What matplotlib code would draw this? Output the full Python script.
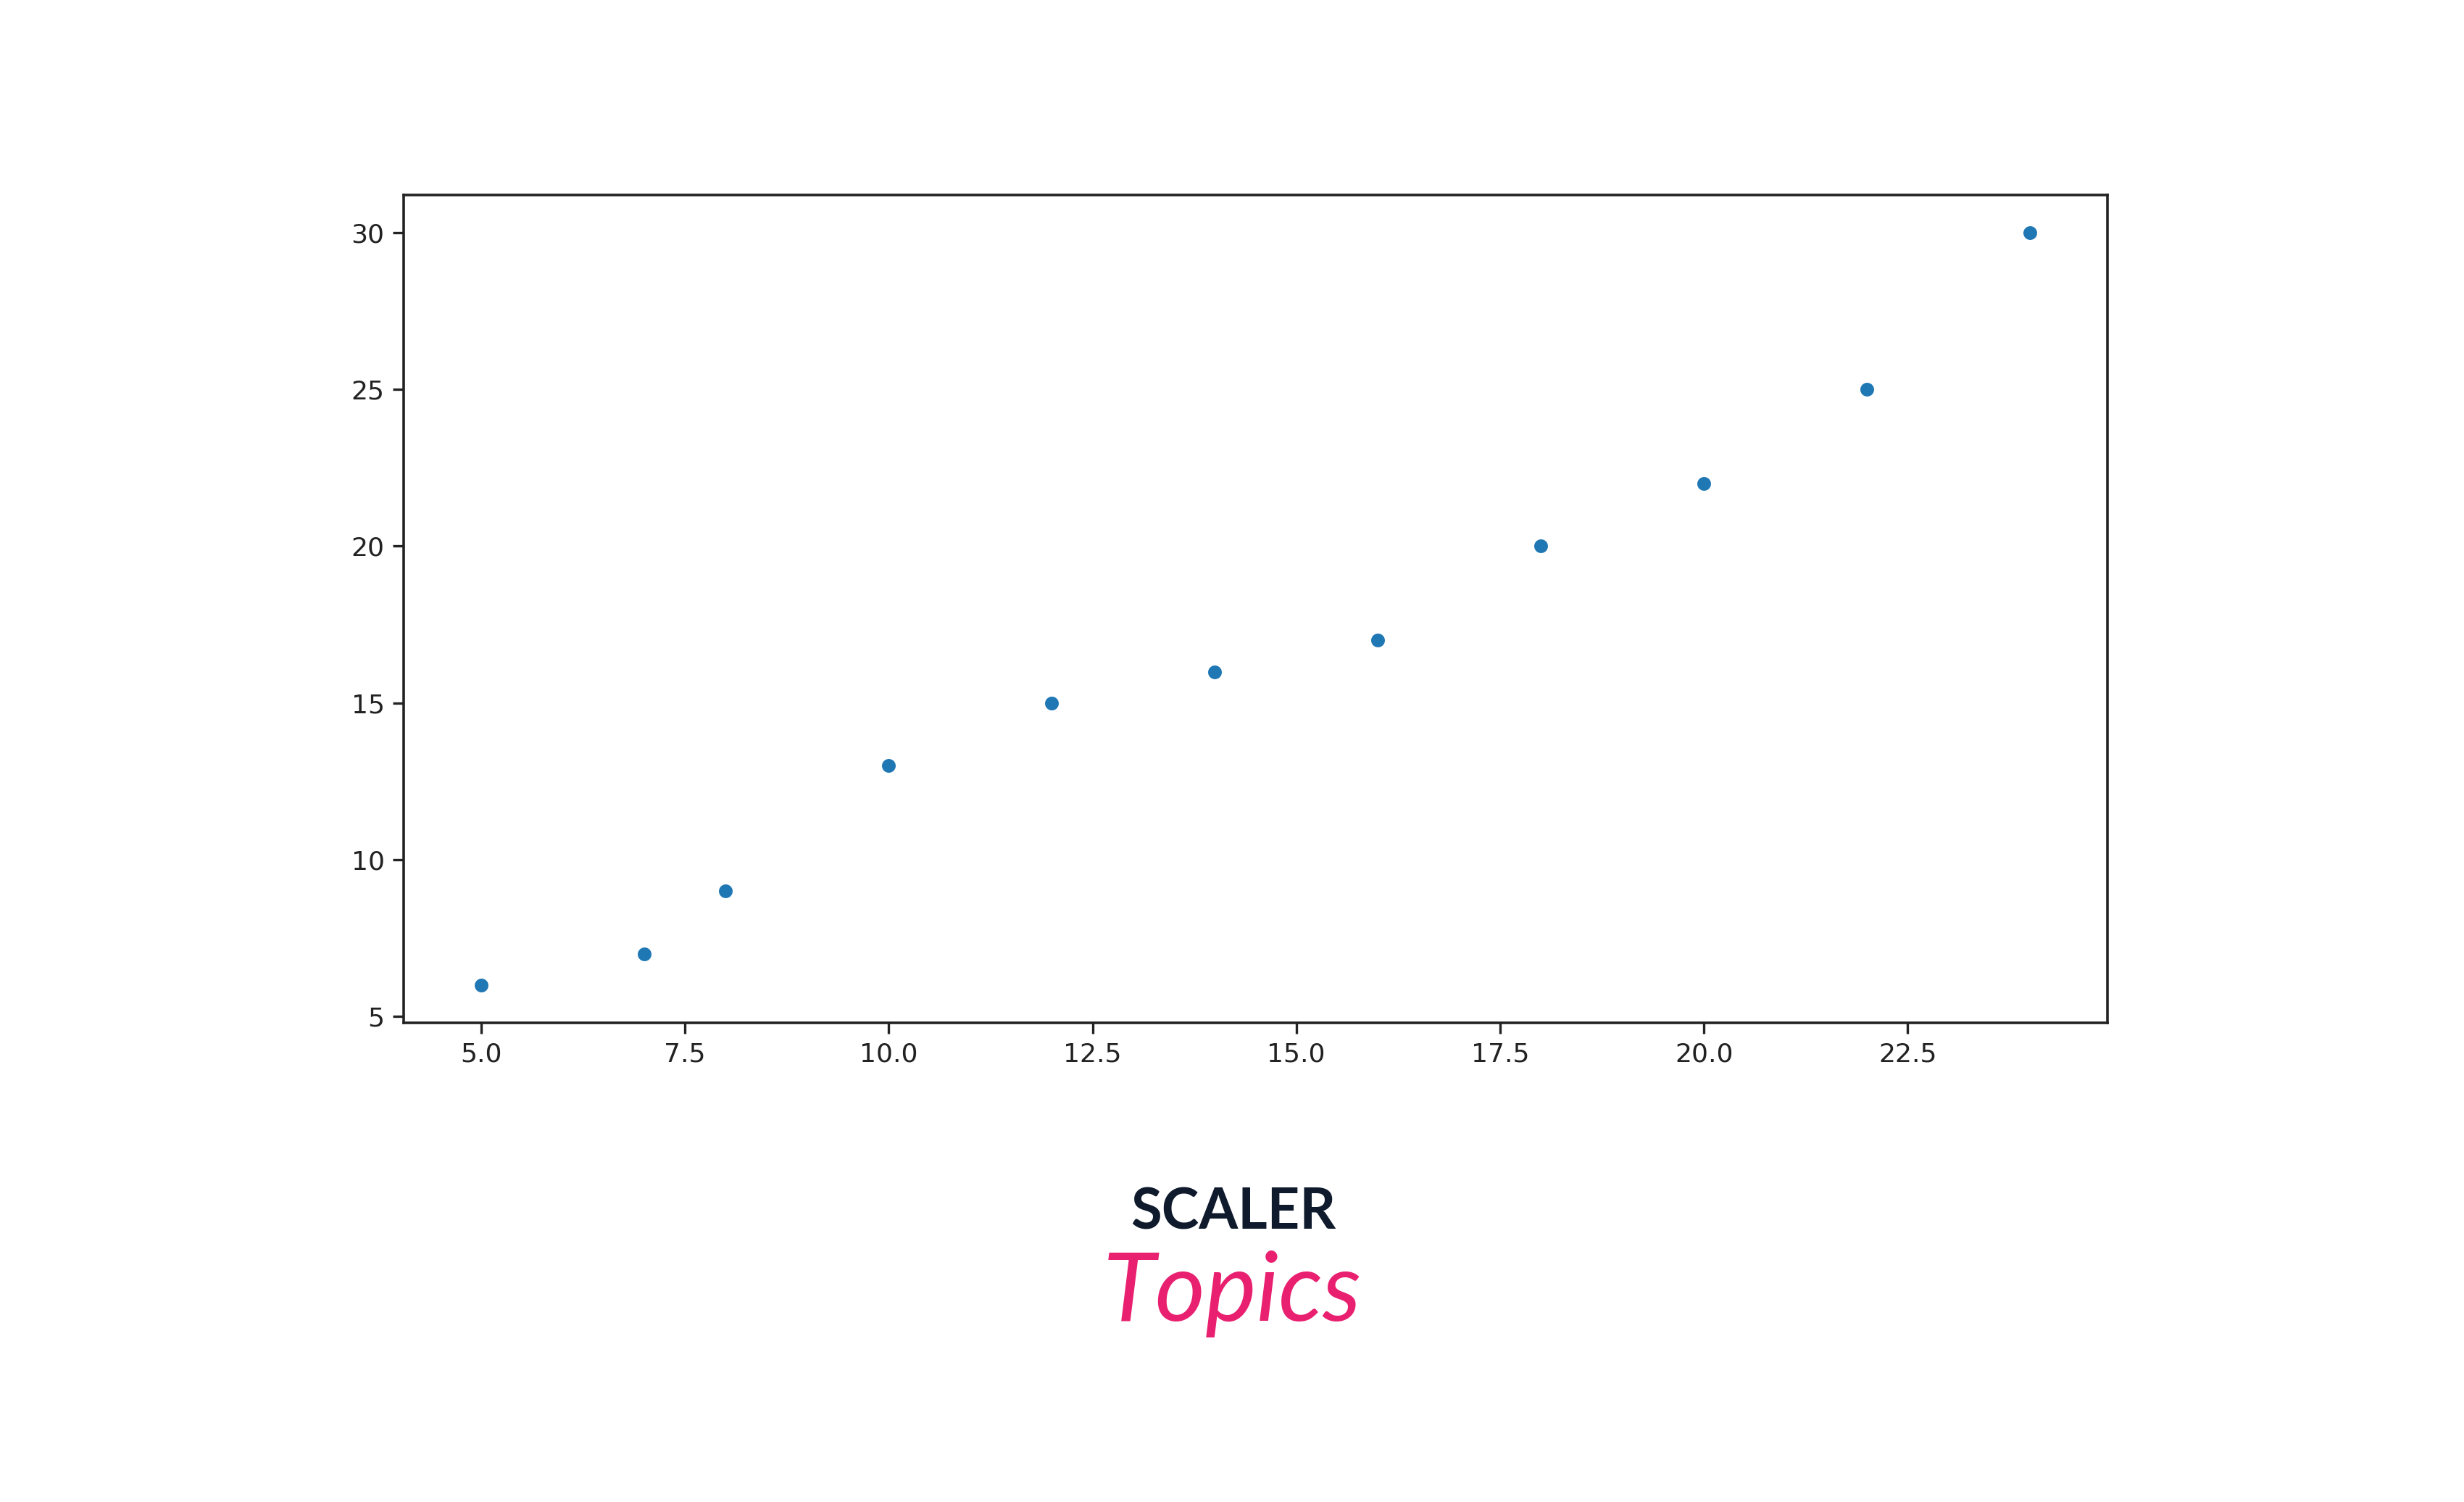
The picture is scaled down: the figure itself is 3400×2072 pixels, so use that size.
import matplotlib
matplotlib.use('Agg')
import matplotlib.pyplot as plt

# data
x_vals = [5, 7, 8, 10, 12, 14, 16, 18, 20, 22, 24]
y_vals = [6, 7, 9, 13, 15, 16, 17, 20, 22, 25, 30]
x_ticks = [5.0, 7.5, 10.0, 12.5, 15.0, 17.5, 20.0, 22.5]
y_ticks = [5, 10, 15, 20, 25, 30]

fig = plt.figure(figsize=(17, 10.36), dpi=200)
ax = fig.add_axes([557 / 3400, 1 - 1411 / 2072, (2908 - 557) / 3400, (1411 - 269) / 2072])

ax.scatter(x_vals, y_vals, s=55, color='#1f77b4', edgecolors='white', linewidths=0.6, zorder=3)

ax.set_xticks(x_ticks)
ax.set_yticks(y_ticks)
ax.set_xticklabels([f'{t:.1f}' for t in x_ticks])
ax.tick_params(labelsize=13, length=5.5, width=1.2, colors='#222222', pad=4)
for sp in ax.spines.values():
    sp.set_linewidth(1.3)
    sp.set_color('#222222')

# logo
fig.text(1702 / 3400, 1 - 1674 / 2072, 'SCALER', ha='center', va='center',
         fontsize=28, fontweight='bold', color='#0f1a2c', family='Lato')
fig.text(1700 / 3400, 1 - 1785 / 2072, 'Topics', ha='center', va='center',
         fontsize=48, style='italic', color='#e8206f', family='Lato')

fig.savefig('out.png', dpi=200)
